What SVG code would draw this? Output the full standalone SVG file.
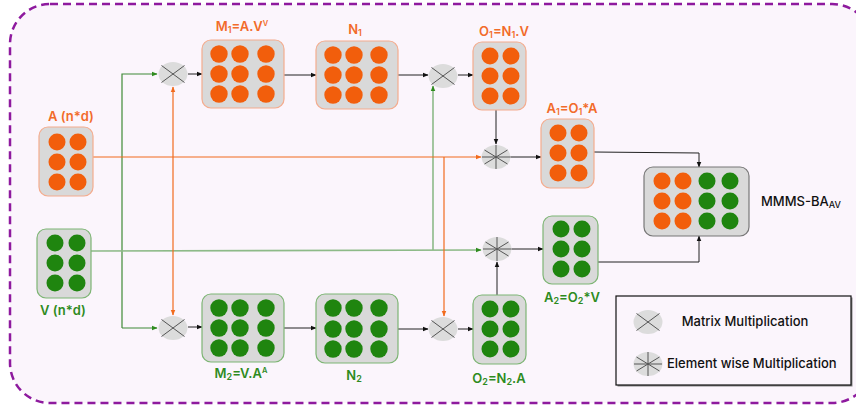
<svg xmlns="http://www.w3.org/2000/svg" width="856" height="406" viewBox="0 0 856 406">
<defs>
<marker id="ab" viewBox="0 0 10 10" refX="9" refY="5" markerWidth="6" markerHeight="6" orient="auto-start-reverse" markerUnits="userSpaceOnUse"><path d="M0,1 L10,5 L0,9 z" fill="#111"/></marker>
<marker id="ao" viewBox="0 0 10 10" refX="9" refY="5" markerWidth="6" markerHeight="6" orient="auto-start-reverse" markerUnits="userSpaceOnUse"><path d="M0,1 L10,5 L0,9 z" fill="#F26B1D"/></marker>
<marker id="ag" viewBox="0 0 10 10" refX="9" refY="5" markerWidth="6" markerHeight="6" orient="auto-start-reverse" markerUnits="userSpaceOnUse"><path d="M0,1 L10,5 L0,9 z" fill="#2E8B1E"/></marker>
<g id="mm"><ellipse cx="0" cy="0" rx="14.5" ry="12" fill="#DCDCDC"/><path d="M-11.5,-8.5 L11.5,8.5 M-11.5,8.5 L11.5,-8.5" stroke="#555" stroke-width="1"/></g>
<g id="ew"><ellipse cx="0" cy="0" rx="14.5" ry="12" fill="#DCDCDC"/><path d="M-14,0 L14,0 M0,-12 L0,12 M-11.5,-7 L11.5,7 M-11.5,7 L11.5,-7" stroke="#555" stroke-width="1"/></g>
</defs>
<style>
.bg{fill:#FBF5FC;stroke:#8E1A9E;stroke-width:2.5;stroke-dasharray:8 5}
.bo{fill:#D9D9D9;stroke:#F4AC8E;stroke-width:1.2}
.bgr{fill:#D9D9D9;stroke:#7DB574;stroke-width:1.2}
.bk{fill:#D9D9D9;stroke:#777;stroke-width:1.2}
.co{fill:#F25E0C}
.cg{fill:#1F850F}
.lo{font-family:Inter,"Liberation Sans",sans-serif;font-size:13px;font-weight:600;fill:#F26B2A;text-anchor:middle}
.lg{font-family:Inter,"Liberation Sans",sans-serif;font-size:13px;font-weight:600;fill:#2E8B1E;text-anchor:middle}
.lk{font-family:Inter,"Liberation Sans",sans-serif;font-size:13px;font-weight:500;fill:#111}
.sub{font-size:9px}
.sup{font-size:7.5px}
.k{fill:none;stroke:#222;stroke-width:1;marker-end:url(#ab)}
.o{fill:none;stroke:#F26B1D;stroke-width:1.2}
.g{fill:none;stroke:#3F8A36;stroke-width:1.2}
.gl{fill:none;stroke:#8DBA88;stroke-width:1.6}
</style>
<rect class="bg" x="10" y="4" width="862" height="399" rx="40"/>

<g id="connectors">
<path class="g" d="M122,328 L122,74 L157,74" marker-end="url(#ag)"/>
<path class="g" d="M122,328 L157,328" marker-end="url(#ag)"/>
<path class="gl" d="M91,251 L481,250" marker-end="url(#ag)"/>
<path class="gl" d="M433,250 L433,86" marker-end="url(#ag)"/>
<path class="o" d="M93,157 L481,157" marker-end="url(#ao)"/>
<path class="o" d="M173,157 L173,87" marker-end="url(#ao)"/>
<path class="o" d="M173,157 L173,315" marker-end="url(#ao)"/>
<path class="o" d="M444,157 L444,316" marker-end="url(#ao)"/>
<path class="k" d="M188,74 L202,74"/>
<path class="k" d="M284,75 L316,75"/>
<path class="k" d="M398,75 L428,75"/>
<path class="k" d="M458,75 L473,75"/>
<path class="k" d="M496,110 L496,144"/>
<path class="k" d="M510,157 L541,157"/>
<path class="k" d="M594,152 L699,153 L699,167"/>
<path class="k" d="M188,327 L202,327"/>
<path class="k" d="M284,328 L316,328"/>
<path class="k" d="M398,329 L428,329"/>
<path class="k" d="M458,329 L473,329"/>
<path class="k" d="M497,295 L497,262"/>
<path class="k" d="M510,249 L543,249"/>
<path class="k" d="M598,262 L699,262 L699,236"/>
</g>

<g id="op-m1"><use href="#mm" x="173" y="74"/></g>
<g id="op-m2"><use href="#mm" x="443" y="76"/></g>
<g id="op-m3"><use href="#mm" x="173" y="328"/></g>
<g id="op-m4"><use href="#mm" x="443" y="329"/></g>
<g id="op-e1"><use href="#ew" x="496" y="157"/></g>
<g id="op-e2"><use href="#ew" x="497" y="249"/></g>

<g id="A">
<text class="lo" x="71" y="121">A (n*d)</text>
<rect class="bo" x="39" y="127" width="54" height="69" rx="9"/>
<circle class="co" cx="57" cy="142" r="8.5"/><circle class="co" cx="78" cy="142" r="8.5"/>
<circle class="co" cx="57" cy="162" r="8.5"/><circle class="co" cx="78" cy="162" r="8.5"/>
<circle class="co" cx="57" cy="182" r="8.5"/><circle class="co" cx="78" cy="182" r="8.5"/>
</g>

<g id="V">
<rect class="bgr" x="37" y="229" width="54" height="69" rx="9"/>
<circle class="cg" cx="55" cy="243" r="8.5"/><circle class="cg" cx="77" cy="243" r="8.5"/>
<circle class="cg" cx="55" cy="263" r="8.5"/><circle class="cg" cx="77" cy="263" r="8.5"/>
<circle class="cg" cx="55" cy="283" r="8.5"/><circle class="cg" cx="77" cy="283" r="8.5"/>
<text class="lg" x="63" y="315">V (n*d)</text>
</g>

<g id="M1">
<text class="lo" x="242" y="31">M<tspan class="sub" baseline-shift="-2">1</tspan>=A.V<tspan class="sup" baseline-shift="5">V</tspan></text>
<rect class="bo" x="202" y="40" width="82" height="68" rx="9"/>
<circle class="co" cx="219" cy="54" r="8.7"/><circle class="co" cx="240" cy="54" r="8.7"/><circle class="co" cx="266" cy="54" r="8.7"/>
<circle class="co" cx="219" cy="74" r="8.7"/><circle class="co" cx="240" cy="74" r="8.7"/><circle class="co" cx="266" cy="74" r="8.7"/>
<circle class="co" cx="219" cy="94" r="8.7"/><circle class="co" cx="240" cy="94" r="8.7"/><circle class="co" cx="266" cy="94" r="8.7"/>
</g>

<g id="N1">
<text class="lo" x="355" y="34">N<tspan class="sub" baseline-shift="-2">1</tspan></text>
<rect class="bo" x="316" y="41" width="82" height="68" rx="9"/>
<circle class="co" cx="333" cy="55" r="8.7"/><circle class="co" cx="354" cy="55" r="8.7"/><circle class="co" cx="379" cy="55" r="8.7"/>
<circle class="co" cx="333" cy="75" r="8.7"/><circle class="co" cx="354" cy="75" r="8.7"/><circle class="co" cx="379" cy="75" r="8.7"/>
<circle class="co" cx="333" cy="95" r="8.7"/><circle class="co" cx="354" cy="95" r="8.7"/><circle class="co" cx="379" cy="95" r="8.7"/>
</g>

<g id="O1">
<text class="lo" x="504" y="36">O<tspan class="sub" baseline-shift="-2">1</tspan>=N<tspan class="sub" baseline-shift="-2">1</tspan>.V</text>
<rect class="bo" x="473" y="42" width="53" height="68" rx="9"/>
<circle class="co" cx="490" cy="56" r="8.5"/><circle class="co" cx="511" cy="56" r="8.5"/>
<circle class="co" cx="490" cy="76" r="8.5"/><circle class="co" cx="511" cy="76" r="8.5"/>
<circle class="co" cx="490" cy="96" r="8.5"/><circle class="co" cx="511" cy="96" r="8.5"/>
</g>

<g id="A1">
<text class="lo" x="572" y="113">A<tspan class="sub" baseline-shift="-2">1</tspan>=O<tspan class="sub" baseline-shift="-2">1</tspan>*A</text>
<rect class="bo" x="541" y="119" width="53" height="69" rx="9"/>
<circle class="co" cx="558" cy="133" r="8.5"/><circle class="co" cx="579" cy="133" r="8.5"/>
<circle class="co" cx="558" cy="153" r="8.5"/><circle class="co" cx="579" cy="153" r="8.5"/>
<circle class="co" cx="558" cy="173" r="8.5"/><circle class="co" cx="579" cy="173" r="8.5"/>
</g>

<g id="A2">
<rect class="bgr" x="543" y="216" width="55" height="68" rx="9"/>
<circle class="cg" cx="561" cy="229" r="8.5"/><circle class="cg" cx="582" cy="229" r="8.5"/>
<circle class="cg" cx="561" cy="249" r="8.5"/><circle class="cg" cx="582" cy="249" r="8.5"/>
<circle class="cg" cx="561" cy="269" r="8.5"/><circle class="cg" cx="582" cy="269" r="8.5"/>
<text class="lg" x="572" y="302">A<tspan class="sub" baseline-shift="-2">2</tspan>=O<tspan class="sub" baseline-shift="-2">2</tspan>*V</text>
</g>

<g id="MMMS">
<rect class="bk" x="644" y="167" width="105" height="69" rx="9"/>
<circle class="co" cx="662" cy="181" r="8.5"/><circle class="co" cx="683" cy="181" r="8.5"/><circle class="cg" cx="707" cy="181" r="8.5"/><circle class="cg" cx="730" cy="181" r="8.5"/>
<circle class="co" cx="662" cy="201" r="8.5"/><circle class="co" cx="683" cy="201" r="8.5"/><circle class="cg" cx="707" cy="201" r="8.5"/><circle class="cg" cx="730" cy="201" r="8.5"/>
<circle class="co" cx="662" cy="221" r="8.5"/><circle class="co" cx="683" cy="221" r="8.5"/><circle class="cg" cx="707" cy="221" r="8.5"/><circle class="cg" cx="730" cy="221" r="8.5"/>
<text class="lk" x="761" y="206">MMMS-BA<tspan class="sub" baseline-shift="-2">AV</tspan></text>
</g>

<g id="M2">
<rect class="bgr" x="202" y="294" width="82" height="68" rx="9"/>
<circle class="cg" cx="219" cy="308" r="8.7"/><circle class="cg" cx="240" cy="308" r="8.7"/><circle class="cg" cx="266" cy="308" r="8.7"/>
<circle class="cg" cx="219" cy="328" r="8.7"/><circle class="cg" cx="240" cy="328" r="8.7"/><circle class="cg" cx="266" cy="328" r="8.7"/>
<circle class="cg" cx="219" cy="348" r="8.7"/><circle class="cg" cx="240" cy="348" r="8.7"/><circle class="cg" cx="266" cy="348" r="8.7"/>
<text class="lg" x="241" y="378">M<tspan class="sub" baseline-shift="-2">2</tspan>=V.A<tspan class="sup" baseline-shift="5">A</tspan></text>
</g>

<g id="N2">
<rect class="bgr" x="316" y="294" width="82" height="69" rx="9"/>
<circle class="cg" cx="333" cy="308" r="8.7"/><circle class="cg" cx="354" cy="308" r="8.7"/><circle class="cg" cx="379" cy="308" r="8.7"/>
<circle class="cg" cx="333" cy="329" r="8.7"/><circle class="cg" cx="354" cy="329" r="8.7"/><circle class="cg" cx="379" cy="329" r="8.7"/>
<circle class="cg" cx="333" cy="349" r="8.7"/><circle class="cg" cx="354" cy="349" r="8.7"/><circle class="cg" cx="379" cy="349" r="8.7"/>
<text class="lg" x="354" y="380">N<tspan class="sub" baseline-shift="-2">2</tspan></text>
</g>

<g id="O2">
<rect class="bgr" x="473" y="295" width="53" height="69" rx="9"/>
<circle class="cg" cx="490" cy="309" r="8.5"/><circle class="cg" cx="511" cy="309" r="8.5"/>
<circle class="cg" cx="490" cy="329" r="8.5"/><circle class="cg" cx="511" cy="329" r="8.5"/>
<circle class="cg" cx="490" cy="349" r="8.5"/><circle class="cg" cx="511" cy="349" r="8.5"/>
<text class="lg" x="499" y="383">O<tspan class="sub" baseline-shift="-2">2</tspan>=N<tspan class="sub" baseline-shift="-2">2</tspan>.A</text>
</g>

<g id="legend">
<rect x="617.5" y="297.5" width="235" height="89" fill="#888"/>
<rect x="616" y="296" width="235" height="89" fill="#FBF5FC" stroke="#111" stroke-width="1.2"/>
<use href="#mm" x="648" y="322"/>
<text class="lk" x="745" y="326" text-anchor="middle">Matrix Multiplication</text>
<use href="#ew" x="648" y="364"/>
<text class="lk" x="667" y="368">Element wise Multiplication</text>
</g>
</svg>
